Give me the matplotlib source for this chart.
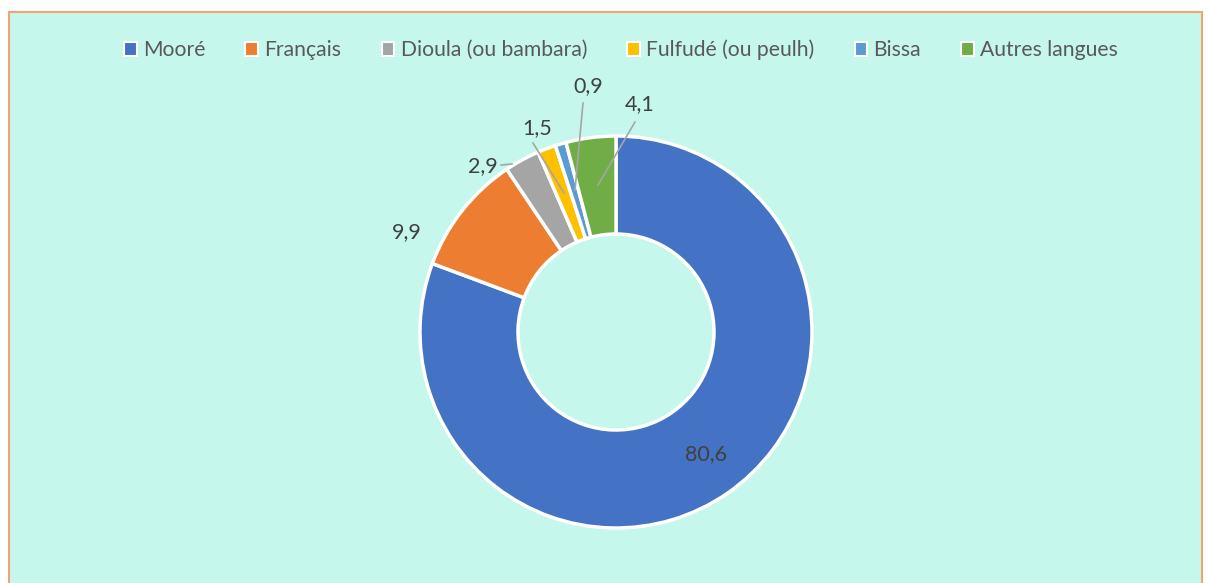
import matplotlib.pyplot as plt
from matplotlib.patches import Patch

# data
langues = ["Mooré", "Français", "Dioula (ou bambara)", "Fulfudé (ou peulh)", "Bissa", "Autres langues"]
valeurs = [80.6, 9.9, 2.9, 1.5, 0.9, 4.1]
couleurs = ["#4472C4", "#ED7D31", "#A5A5A5", "#FFC000", "#5B9BD5", "#70AD47"]

W, H = 1210, 583
BG = "#C5F7EC"

fig = plt.figure(figsize=(W / 100, H / 100), dpi=100)
fig.patch.set_facecolor("white")
ax = fig.add_axes([0, 0, 1, 1])

# chart area with orange border (left, top, right)
ax.add_patch(plt.Rectangle((9, -5), 1193, H - 12 + 5, facecolor=BG, edgecolor="#F4A46E", lw=1.5))

cx, cy, r = 616, H - 332, 196
wedges, _ = ax.pie(valeurs, colors=couleurs, startangle=90, counterclock=False,
                   center=(cx, cy), radius=r, frame=True,
                   wedgeprops=dict(width=r * 0.5, edgecolor="white", linewidth=2.5))
ax.set_xlim(0, W)
ax.set_ylim(0, H)
ax.set_aspect("equal")
ax.axis("off")

txt = dict(fontsize=15.5, color="#404040", family="Lato", ha="center", va="center")
lbl = [f"{v:.1f}".replace(".", ",") for v in valeurs]

# label positions (pixels from top-left) and leader lines
pos = [(706, 454), (407, 232), (483, 166), (537, 128), (588, 86), (640, 104)]
leaders = {2: [(501, 165), (512, 164)],
           3: [(533, 143), (564, 193)],
           4: [(583, 103), (575, 190)],
           5: [(635, 122), (598, 185)]}
for i, (x, y) in enumerate(pos):
    ax.text(x, H - y, lbl[i], **txt)
for i, pts in leaders.items():
    ax.plot([p[0] for p in pts], [H - p[1] for p in pts], color="#A6A6A6", lw=1.2)

handles = [Patch(facecolor=c, edgecolor="white", linewidth=1.5) for c in couleurs]
fig.legend(handles, langues, loc="center", bbox_to_anchor=(621 / W, 1 - 50 / H), ncol=6,
           frameon=False, handlelength=0.6, handleheight=0.6, handletextpad=0.3,
           columnspacing=1.9, prop=dict(family="Lato", size=15.2), labelcolor="#595959")

fig.savefig("out.png", dpi=100, facecolor="white")
